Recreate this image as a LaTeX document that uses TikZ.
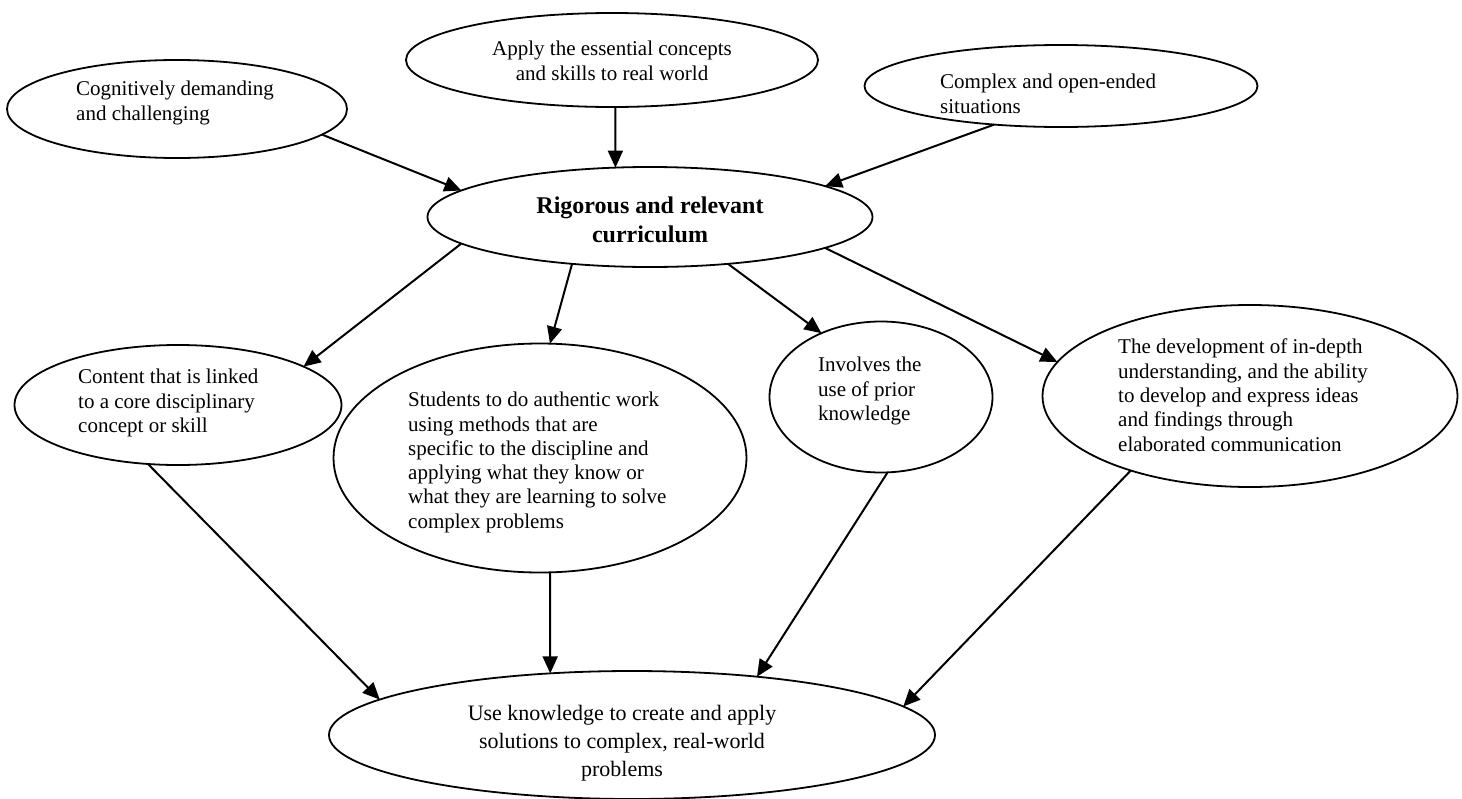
\documentclass[tikz,border=0pt]{standalone}
\usepackage{fontspec}
\setmainfont{Liberation Serif}
\usetikzlibrary{shapes.geometric,arrows.meta}

\tikzset{
    bub/.style 2 args={draw, ellipse, line width=1.8pt, minimum width=#1, minimum height=#2, inner sep=0pt, outer sep=0pt},
    txt/.style={inner sep=0pt, align=left, anchor=north west, font=\fontsize{21}{24.3}\selectfont},
    ctxt/.style={inner sep=0pt, align=center, anchor=north, font=\fontsize{21}{24.3}\selectfont},
    arr/.style={line width=2pt, -{Triangle[length=17pt,width=15pt]}}
}

\begin{document}
\begin{tikzpicture}[x=1pt,y=-1pt]
    \useasboundingbox (0,0) rectangle (1462,798);

    \node[bub={340pt}{98pt}] (cog) at (177,109) {};
    \node[bub={412pt}{94pt}] (app) at (612,60) {};
    \node[bub={393pt}{82pt}] (cmp) at (1061,86) {};
    \node[bub={445pt}{100pt}] (rig) at (650,217) {};
    \node[bub={327pt}{120pt}] (con) at (178,405) {};
    \node[bub={413pt}{229pt}] (stu) at (540,458) {};
    \node[bub={223pt}{151pt}] (inv) at (881,397) {};
    \node[bub={415pt}{182pt}] (dev) at (1250,396) {};
    \node[bub={606pt}{128pt}] (use) at (632,735) {};

    \node[txt] (cogtxt) at (76,81) {Cognitively demanding\\and challenging};
    \node[ctxt] (apptxt) at (612,41) {Apply the essential concepts\\and skills to real world};
    \node[txt] (cmptxt) at (940,74) {Complex and open-ended\\situations};
    \node[ctxt, font=\fontsize{24}{29}\selectfont\bfseries] (rigtxt) at (650,197) {Rigorous and relevant\\curriculum};
    \node[txt] (contxt) at (78,369) {Content that is linked\\to a core disciplinary\\concept or skill};
    \node[txt] (stutxt) at (408,392) {Students to do authentic work\\using methods that are\\specific to the discipline and\\applying what they know or\\what they are learning to solve\\complex problems};
    \node[txt] (invtxt) at (818,357) {Involves the\\use of prior\\knowledge};
    \node[txt] (devtxt) at (1118,339) {The development of in-depth\\understanding, and the ability\\to develop and express ideas\\and findings through\\elaborated communication};
    \node[ctxt, font=\fontsize{22}{28}\selectfont] (usetxt) at (622,705) {Use knowledge to create and apply\\solutions to complex, real-world\\problems};

    \draw[arr] (cog.-10) -- (rig.172);
    \draw[arr] (app.-86) -- (rig.125);
    \draw[arr] (cmp.-150) -- (rig.10);

    \draw[arr] (rig.-172) -- (con.17);
    \draw[arr] (rig.-149) -- (stu.85);
    \draw[arr] (rig.-31) -- (inv.133);
    \draw[arr] (rig.-10) -- (dev.170);

    \draw[arr] (con.-117) -- (use.172);
    \draw[arr] (stu.-85) -- (use.143);
    \draw[arr] (inv.-85) -- (use.25);
    \draw[arr] (dev.-148) -- (use.6);
\end{tikzpicture}
\end{document}
